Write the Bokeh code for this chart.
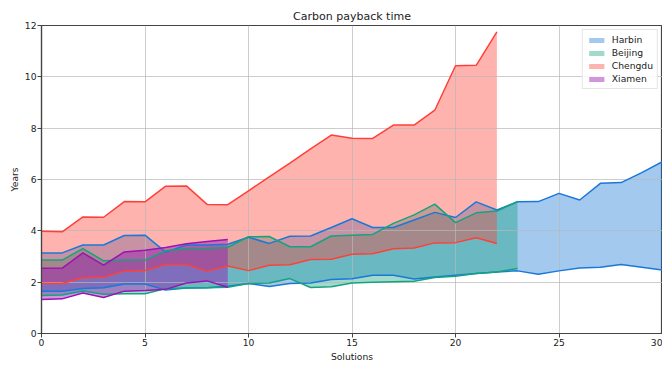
from bokeh.plotting import figure
from bokeh.models import Legend, LegendItem, FixedTicker, Range1d
from bokeh.embed import file_html
from bokeh.resources import INLINE

cities = ["Harbin", "Beijing", "Chengdu", "Xiamen"]

harbin_upper = [3.14, 3.14, 3.45, 3.45, 3.82, 3.83, 3.17, 3.45, 3.45, 3.48,
                3.75, 3.51, 3.79, 3.80, 4.13, 4.47, 4.13, 4.13, 4.42, 4.72,
                4.52, 5.13, 4.81, 5.13, 5.14, 5.46, 5.20, 5.85, 5.88, 6.27, 6.70]
harbin_lower = [1.65, 1.65, 1.75, 1.78, 1.93, 1.93, 1.69, 1.77, 1.78, 1.84,
                1.95, 1.83, 1.95, 1.97, 2.10, 2.13, 2.27, 2.27, 2.12, 2.20,
                2.27, 2.34, 2.40, 2.44, 2.31, 2.44, 2.55, 2.58, 2.69, 2.58, 2.47]

beijing_upper = [2.86, 2.86, 3.31, 2.83, 2.86, 2.86, 3.22, 3.31, 3.31, 3.36,
                 3.77, 3.78, 3.38, 3.38, 3.80, 3.83, 3.86, 4.29, 4.62, 5.04,
                 4.32, 4.70, 4.77, 5.15]
beijing_lower = [1.48, 1.50, 1.66, 1.53, 1.55, 1.55, 1.75, 1.77, 1.78, 1.80,
                 1.95, 1.97, 2.14, 1.79, 1.82, 1.97, 2.00, 2.02, 2.04, 2.18,
                 2.23, 2.34, 2.40, 2.53]

chengdu_upper = [3.98, 3.96, 4.54, 4.53, 5.14, 5.13, 5.74, 5.75, 5.03, 5.02,
                 5.56, 6.10, 6.64, 7.19, 7.73, 7.61, 7.60, 8.12, 8.12, 8.70,
                 10.43, 10.45, 11.75]
chengdu_lower = [1.95, 1.95, 2.17, 2.19, 2.43, 2.45, 2.69, 2.69, 2.43, 2.63,
                 2.45, 2.66, 2.68, 2.88, 2.89, 3.09, 3.11, 3.30, 3.33, 3.53,
                 3.54, 3.73, 3.51]

xiamen_upper = [2.54, 2.55, 3.14, 2.66, 3.18, 3.24, 3.35, 3.50, 3.58, 3.66]
xiamen_lower = [1.32, 1.35, 1.58, 1.40, 1.65, 1.68, 1.72, 1.97, 2.05, 1.80]

x_ticks = [0, 5, 10, 15, 20, 25, 30]
y_ticks = [0, 2, 4, 6, 8, 10, 12]

series = [
    (harbin_upper, harbin_lower, "#1a78d8", 0.4),
    (beijing_upper, beijing_lower, "#14a37f", 0.4),
    (chengdu_upper, chengdu_lower, "#ff4038", 0.4),
    (xiamen_upper, xiamen_lower, "#9a14b4", 0.45),
]

FONT = "DejaVu Sans"
SMALL = "9.2px"

p = figure(frame_width=621, frame_height=308, output_backend="svg", toolbar_location=None,
           x_range=Range1d(0, 30), y_range=Range1d(0, 12),
           min_border_left=41, min_border_right=0, min_border_top=25, min_border_bottom=0)

p.title.text = "Carbon payback time"
p.title.align = "center"
p.title.text_font = FONT
p.title.text_font_size = "11px"
p.title.text_font_style = "normal"
p.title.text_color = "#222222"
p.title.standoff = 5

items = []
for name, (up, lo, col, a) in zip(cities, series):
    xs = list(range(len(up)))
    r = p.varea(x=xs, y1=lo, y2=up, fill_color=col, fill_alpha=a, level="image")
    p.line(x=xs, y=up, line_color=col, line_width=1.5)
    p.line(x=xs, y=lo, line_color=col, line_width=1.5)
    items.append(LegendItem(label=name, renderers=[r]))

legend = Legend(items=items, location="top_right")
legend.label_text_font = FONT
legend.label_text_font_size = SMALL
legend.label_text_color = "#222222"
legend.glyph_width = 19
legend.glyph_height = 6
legend.label_height = 11
legend.spacing = 2
legend.padding = 4
legend.margin = 4
legend.label_standoff = 6
legend.border_line_color = "#cccccc"
legend.background_fill_alpha = 0.85
p.add_layout(legend)

p.xaxis.ticker = FixedTicker(ticks=x_ticks)
p.yaxis.ticker = FixedTicker(ticks=y_ticks)
p.xaxis.axis_label = "Solutions"
p.yaxis.axis_label = "Years"
for ax in (p.xaxis, p.yaxis):
    ax.axis_label_text_font = FONT
    ax.axis_label_text_font_size = SMALL
    ax.axis_label_text_font_style = "normal"
    ax.axis_label_text_color = "#222222"
    ax.major_label_text_font = FONT
    ax.major_label_text_font_size = SMALL
    ax.major_label_text_color = "#222222"
    ax.major_tick_out = 4
    ax.major_tick_in = 0
    ax.minor_tick_out = 0
    ax.minor_tick_in = 0
    ax.axis_line_color = "#444444"
    ax.axis_line_width = 1.2
    ax.major_tick_line_color = "#444444"
    ax.major_label_standoff = 1
    ax.axis_label_standoff = 2

p.outline_line_color = "#444444"
p.outline_line_width = 1.2
p.outline_line_alpha = 1
p.xgrid.grid_line_color = "#b8b8b8"
p.ygrid.grid_line_color = "#b8b8b8"
p.xgrid.grid_line_alpha = 0.7
p.ygrid.grid_line_alpha = 0.7
p.background_fill_color = "white"
p.border_fill_color = "white"

open("out.html", "w").write(file_html(p, INLINE))
